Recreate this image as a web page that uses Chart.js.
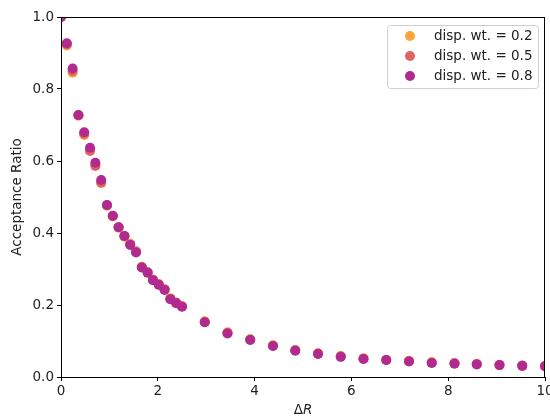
<!DOCTYPE html>
<html>
<head>
<meta charset="utf-8">
<script src="https://cdn.jsdelivr.net/npm/chart.js@4/dist/chart.umd.min.js"></script>
<style>
  body { margin: 0; background: #fff; }
  #c { display: block; }
</style>
</head>
<body>
<canvas id="c" width="550" height="417"></canvas>
<script>
// x positions (Delta R)
var deltaR = [0, 0.12, 0.24, 0.36, 0.48, 0.6, 0.71, 0.83, 0.95, 1.07, 1.19, 1.31, 1.43, 1.55, 1.67, 1.79, 1.9, 2.02, 2.14, 2.26, 2.38, 2.5,
              2.97, 3.44, 3.91, 4.38, 4.84, 5.31, 5.78, 6.25, 6.72, 7.19, 7.66, 8.13, 8.59, 9.06, 9.53, 10.0];

var accWt02 = [1.0, 0.921, 0.845, 0.726, 0.672, 0.630, 0.590, 0.539, 0.476, 0.446, 0.415, 0.390, 0.370, 0.350, 0.306, 0.291, 0.270, 0.258, 0.244, 0.219, 0.207, 0.197,
               0.155, 0.124, 0.105, 0.088, 0.075, 0.066, 0.058, 0.052, 0.048, 0.045, 0.041, 0.039, 0.036, 0.034, 0.032, 0.031];
var accWt05 = [1.0, 0.924, 0.850, 0.727, 0.676, 0.628, 0.586, 0.540, 0.477, 0.447, 0.416, 0.391, 0.368, 0.348, 0.305, 0.290, 0.270, 0.257, 0.243, 0.217, 0.206, 0.196,
               0.153, 0.122, 0.104, 0.087, 0.074, 0.065, 0.057, 0.051, 0.047, 0.044, 0.040, 0.038, 0.036, 0.033, 0.031, 0.030];
var accWt08 = [1.0, 0.927, 0.857, 0.728, 0.680, 0.637, 0.595, 0.547, 0.478, 0.448, 0.416, 0.392, 0.367, 0.346, 0.304, 0.290, 0.269, 0.256, 0.242, 0.216, 0.205, 0.195,
               0.152, 0.121, 0.103, 0.086, 0.073, 0.064, 0.056, 0.050, 0.047, 0.043, 0.039, 0.037, 0.035, 0.033, 0.031, 0.030];

var seriesLabels = ['disp. wt. = 0.2', 'disp. wt. = 0.5', 'disp. wt. = 0.8'];
var seriesColors = ['#fca636', '#e16462', '#b12a90'];
var xTickVals = [0, 2, 4, 6, 8, 10];
var yTickVals = [0.0, 0.2, 0.4, 0.6, 0.8, 1.0];

var FONT = 'DejaVu Sans';
var FS = 13.5;

function toPoints(ys){
    return ys.map(function(y, i){ return {x: deltaR[i], y: y}; });
}

var allSeries = [accWt02, accWt05, accWt08];
var datasets = allSeries.map(function(ys, i){
    return {
        label: seriesLabels[i],
        data: toPoints(ys),
        backgroundColor: seriesColors[i],
        borderWidth: 0,
        pointRadius: 5,
        pointHoverRadius: 5,
        clip: 0,
        order: allSeries.length - i   // later series drawn on top, like matplotlib
    };
});

// full box around plot, x label with italic R, legend inside the axes
var boxAndLegend = {
    id: 'boxAndLegend',
    afterDraw: function(chart){
        var ctx = chart.ctx, a = chart.chartArea;
        ctx.save();
        ctx.strokeStyle = '#000';
        ctx.lineWidth = 1;
        ctx.strokeRect(Math.round(a.left) + 0.5, Math.round(a.top) + 0.5,
                       Math.round(a.right - a.left) - 1, Math.round(a.bottom - a.top));

        // x axis label: "Δ" upright, "R" italic
        ctx.fillStyle = '#222';
        ctx.textBaseline = 'middle';
        ctx.textAlign = 'left';
        var fUp = FS + 'px "' + FONT + '"', fIt = 'italic ' + FS + 'px "' + FONT + '"';
        ctx.font = fUp; var w1 = ctx.measureText('Δ').width;
        ctx.font = fIt; var w2 = ctx.measureText('R').width;
        var sx = (a.left + a.right) / 2 - (w1 + w2) / 2;
        ctx.font = fUp; ctx.fillText('Δ', sx, 410);
        ctx.font = fIt; ctx.fillText('R', sx + w1, 410);

        // legend
        var bx = 387.5, by = 25.5, bw = 151, bh = 63, r = 3;
        ctx.beginPath();
        ctx.moveTo(bx + r, by);
        ctx.lineTo(bx + bw - r, by);
        ctx.quadraticCurveTo(bx + bw, by, bx + bw, by + r);
        ctx.lineTo(bx + bw, by + bh - r);
        ctx.quadraticCurveTo(bx + bw, by + bh, bx + bw - r, by + bh);
        ctx.lineTo(bx + r, by + bh);
        ctx.quadraticCurveTo(bx, by + bh, bx, by + bh - r);
        ctx.lineTo(bx, by + r);
        ctx.quadraticCurveTo(bx, by, bx + r, by);
        ctx.closePath();
        ctx.fillStyle = 'rgba(255,255,255,0.8)';
        ctx.fill();
        ctx.strokeStyle = '#d0d0d0';
        ctx.stroke();

        ctx.font = fUp;
        chart.data.datasets.forEach(function(ds, i){
            var yy = 36 + i * 20;
            ctx.beginPath();
            ctx.arc(410, yy, 5, 0, Math.PI * 2);
            ctx.fillStyle = ds.backgroundColor;
            ctx.fill();
            ctx.fillStyle = '#222';
            ctx.fillText(ds.label, 434, yy + 0.5);
        });
        ctx.restore();
    }
};

new Chart(document.getElementById('c'), {
    type: 'scatter',
    data: { datasets: datasets },
    options: {
        responsive: false,
        animation: false,
        layout: { padding: { left: 0, right: 5, top: 17, bottom: 0 } },
        plugins: {
            legend: { display: false },
            tooltip: { enabled: false }
        },
        scales: {
            x: {
                type: 'linear',
                min: 0, max: 10,
                afterBuildTicks: function(s){ s.ticks = xTickVals.map(function(v){ return {value: v}; }); },
                afterFit: function(s){ s.height = 40; s.paddingRight = 0; s.paddingLeft = 0; },
                grid: { display: true, drawOnChartArea: false, drawTicks: true, tickLength: 4, color: '#000' },
                border: { display: true, color: '#000' },
                ticks: { color: '#222', padding: 2, maxRotation: 0, font: { family: FONT, size: FS },
                         callback: function(v){ return String(v); } },
                title: { display: false }
            },
            y: {
                type: 'linear',
                min: 0, max: 1,
                afterBuildTicks: function(s){ s.ticks = yTickVals.map(function(v){ return {value: v}; }); },
                afterFit: function(s){ s.width = 61; s.paddingTop = 0; s.paddingBottom = 0; },
                grid: { display: true, drawOnChartArea: false, drawTicks: true, tickLength: 4, color: '#000' },
                border: { display: true, color: '#000' },
                ticks: { color: '#222', padding: 3, font: { family: FONT, size: FS },
                         callback: function(v){ return Number(v).toFixed(1); } },
                title: { display: true, text: 'Acceptance Ratio', color: '#222', padding: { top: 9, bottom: 0 },
                         font: { family: FONT, size: FS } }
            }
        }
    },
    plugins: [boxAndLegend]
});
</script>
</body>
</html>
